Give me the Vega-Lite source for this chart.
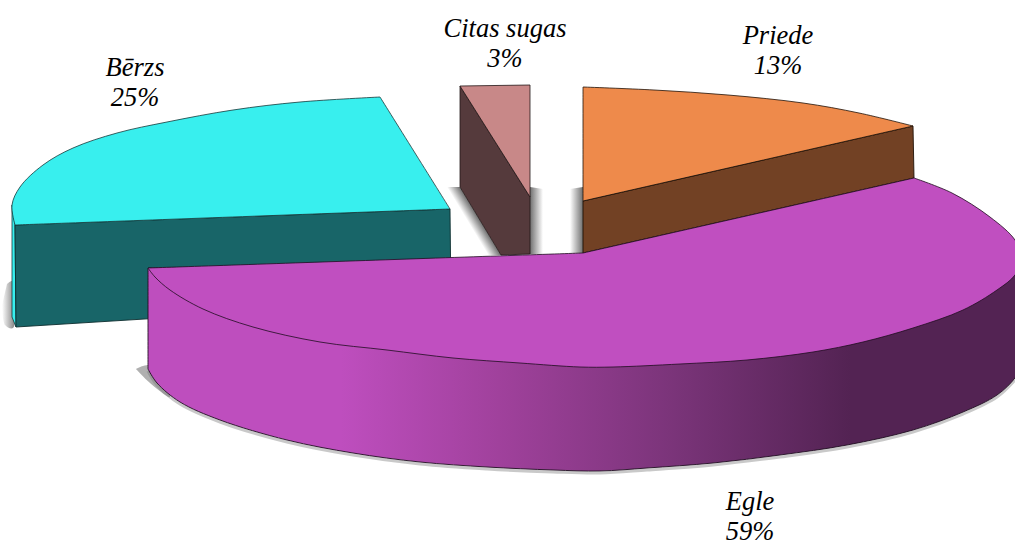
{
"$schema":"https://vega.github.io/schema/vega-lite/v6.json",
"width":1015,"height":543,
"autosize":{"type":"none"},
"padding":0,
"background":"white",
"view":{"stroke":null},
"datasets":{
"outline":[
{"part":"shCitasR","i":1,"x":530,"y":187},{"part":"shCitasR","i":2,"x":543,"y":189},{"part":"shCitasR","i":3,"x":543,"y":254},{"part":"shCitasR","i":4,"x":530,"y":254},
{"part":"shPriede","i":1,"x":570,"y":189},{"part":"shPriede","i":2,"x":583,"y":187},{"part":"shPriede","i":3,"x":583,"y":253},{"part":"shPriede","i":4,"x":570,"y":253},
{"part":"shCitasL","i":1,"x":447,"y":187},{"part":"shCitasL","i":2,"x":460,"y":187},{"part":"shCitasL","i":3,"x":501,"y":255},{"part":"shCitasL","i":4,"x":488,"y":255},
{"part":"shBirch","i":1,"x":7,"y":284},{"part":"shBirch","i":2,"x":13,"y":281},{"part":"shBirch","i":3,"x":13,"y":328},{"part":"shBirch","i":4,"x":5,"y":325},{"part":"shBirch","i":5,"x":2,"y":305},
{"part":"shEgle","i":1,"x":136,"y":369},{"part":"shEgle","i":2,"x":143,"y":366},{"part":"shEgle","i":3,"x":155,"y":366},{"part":"shEgle","i":4,"x":170,"y":397},{"part":"shEgle","i":5,"x":150,"y":383},{"part":"shEgle","i":6,"x":136,"y":369},
{"part":"shArc","i":1,"x":148,"y":371},{"part":"shArc","i":2,"x":157,"y":385},{"part":"shArc","i":3,"x":180,"y":404},{"part":"shArc","i":4,"x":220,"y":422},{"part":"shArc","i":5,"x":287,"y":442},{"part":"shArc","i":6,"x":353,"y":455},{"part":"shArc","i":7,"x":420,"y":464},{"part":"shArc","i":8,"x":487,"y":469},{"part":"shArc","i":9,"x":553,"y":472},{"part":"shArc","i":10,"x":600,"y":473},{"part":"shArc","i":11,"x":647,"y":470},{"part":"shArc","i":12,"x":713,"y":465},{"part":"shArc","i":13,"x":780,"y":457},{"part":"shArc","i":14,"x":847,"y":447},{"part":"shArc","i":15,"x":913,"y":432},{"part":"shArc","i":16,"x":963,"y":414},{"part":"shArc","i":17,"x":997,"y":397},{"part":"shArc","i":18,"x":1015,"y":380},

{"part":"birchSide","i":1,"x":12,"y":205},{"part":"birchSide","i":2,"x":15,"y":225},{"part":"birchSide","i":3,"x":16,"y":327},{"part":"birchSide","i":4,"x":12,"y":317},{"part":"birchSide","i":5,"x":12,"y":205},
{"part":"birchFront","i":1,"x":15,"y":225},{"part":"birchFront","i":2,"x":450,"y":209},{"part":"birchFront","i":3,"x":451,"y":300},{"part":"birchFront","i":4,"x":16,"y":327},{"part":"birchFront","i":5,"x":15,"y":225},
{"part":"birchTop","i":1,"x":15,"y":225},{"part":"birchTop","i":2,"x":15,"y":225},{"part":"birchTop","i":3,"x":12,"y":205},{"part":"birchTop","i":4,"x":20,"y":187},{"part":"birchTop","i":5,"x":43,"y":165},{"part":"birchTop","i":6,"x":73,"y":148},{"part":"birchTop","i":7,"x":117,"y":133},{"part":"birchTop","i":8,"x":167,"y":122},{"part":"birchTop","i":9,"x":233,"y":110},{"part":"birchTop","i":10,"x":300,"y":102},{"part":"birchTop","i":11,"x":380,"y":97},{"part":"birchTop","i":12,"x":380,"y":97},{"part":"birchTop","i":13,"x":450,"y":209},{"part":"birchTop","i":14,"x":450,"y":209},{"part":"birchTop","i":15,"x":15,"y":225},{"part":"birchTop","i":16,"x":15,"y":225},

{"part":"citasSide","i":1,"x":460,"y":86},{"part":"citasSide","i":2,"x":530,"y":197},{"part":"citasSide","i":3,"x":530,"y":254},{"part":"citasSide","i":4,"x":501,"y":255},{"part":"citasSide","i":5,"x":460,"y":187},{"part":"citasSide","i":6,"x":460,"y":86},
{"part":"citasTop","i":1,"x":460,"y":86},{"part":"citasTop","i":2,"x":530,"y":85},{"part":"citasTop","i":3,"x":530,"y":197},{"part":"citasTop","i":4,"x":460,"y":86},

{"part":"priedeFront","i":1,"x":583,"y":201},{"part":"priedeFront","i":2,"x":913,"y":126},{"part":"priedeFront","i":3,"x":914,"y":178},{"part":"priedeFront","i":4,"x":583,"y":253},{"part":"priedeFront","i":5,"x":583,"y":201},
{"part":"priedeTop","i":1,"x":583,"y":87},{"part":"priedeTop","i":2,"x":583,"y":87},{"part":"priedeTop","i":3,"x":654,"y":90},{"part":"priedeTop","i":4,"x":728,"y":95},{"part":"priedeTop","i":5,"x":803,"y":103},{"part":"priedeTop","i":6,"x":859,"y":113},{"part":"priedeTop","i":7,"x":913,"y":126},{"part":"priedeTop","i":8,"x":913,"y":126},{"part":"priedeTop","i":9,"x":583,"y":201},{"part":"priedeTop","i":10,"x":583,"y":201},{"part":"priedeTop","i":11,"x":583,"y":87},{"part":"priedeTop","i":12,"x":583,"y":87},

{"part":"egleSide","i":1,"x":148,"y":268},{"part":"egleSide","i":2,"x":148,"y":268},{"part":"egleSide","i":3,"x":148,"y":369},{"part":"egleSide","i":4,"x":148,"y":369},{"part":"egleSide","i":5,"x":157,"y":383},{"part":"egleSide","i":6,"x":180,"y":402},{"part":"egleSide","i":7,"x":220,"y":420},{"part":"egleSide","i":8,"x":287,"y":440},{"part":"egleSide","i":9,"x":353,"y":453},{"part":"egleSide","i":10,"x":420,"y":462},{"part":"egleSide","i":11,"x":487,"y":467},{"part":"egleSide","i":12,"x":553,"y":470},{"part":"egleSide","i":13,"x":600,"y":471},{"part":"egleSide","i":14,"x":647,"y":468},{"part":"egleSide","i":15,"x":713,"y":463},{"part":"egleSide","i":16,"x":780,"y":455},{"part":"egleSide","i":17,"x":847,"y":445},{"part":"egleSide","i":18,"x":913,"y":430},{"part":"egleSide","i":19,"x":963,"y":412},{"part":"egleSide","i":20,"x":997,"y":395},{"part":"egleSide","i":21,"x":1015,"y":378},{"part":"egleSide","i":22,"x":1026,"y":360},{"part":"egleSide","i":23,"x":1026,"y":360},{"part":"egleSide","i":24,"x":1026,"y":258},{"part":"egleSide","i":25,"x":1026,"y":258},{"part":"egleSide","i":26,"x":148,"y":268},{"part":"egleSide","i":27,"x":148,"y":268},

{"part":"egleTop","i":1,"x":148,"y":268},{"part":"egleTop","i":2,"x":148,"y":268},{"part":"egleTop","i":3,"x":583,"y":253},{"part":"egleTop","i":4,"x":583,"y":253},{"part":"egleTop","i":5,"x":914,"y":178},{"part":"egleTop","i":6,"x":914,"y":178},{"part":"egleTop","i":7,"x":952,"y":193},{"part":"egleTop","i":8,"x":990,"y":217},{"part":"egleTop","i":9,"x":1015,"y":240},{"part":"egleTop","i":10,"x":1022,"y":258},{"part":"egleTop","i":11,"x":1015,"y":275},{"part":"egleTop","i":12,"x":997,"y":290},{"part":"egleTop","i":13,"x":963,"y":310},{"part":"egleTop","i":14,"x":913,"y":328},{"part":"egleTop","i":15,"x":863,"y":342},{"part":"egleTop","i":16,"x":813,"y":352},{"part":"egleTop","i":17,"x":747,"y":360},{"part":"egleTop","i":18,"x":680,"y":364},{"part":"egleTop","i":19,"x":613,"y":367},{"part":"egleTop","i":20,"x":580,"y":367},{"part":"egleTop","i":21,"x":520,"y":363},{"part":"egleTop","i":22,"x":453,"y":358},{"part":"egleTop","i":23,"x":387,"y":350},{"part":"egleTop","i":24,"x":320,"y":342},{"part":"egleTop","i":25,"x":253,"y":327},{"part":"egleTop","i":26,"x":203,"y":309},{"part":"egleTop","i":27,"x":170,"y":290},{"part":"egleTop","i":28,"x":155,"y":277},{"part":"egleTop","i":29,"x":148,"y":268},{"part":"egleTop","i":30,"x":148,"y":268}
],
"labels":[
{"species":"Citas sugas","share":3,"text":"Citas sugas\n3%","x":505,"y":37},
{"species":"Priede","share":13,"text":"Priede\n13%","x":778,"y":44},
{"species":"Bērzs","share":25,"text":"Bērzs\n25%","x":135,"y":76},
{"species":"Egle","share":59,"text":"Egle\n59%","x":750,"y":510}
]
},
"data":{"name":"outline"},
"encoding":{
"x":{"field":"x","type":"quantitative","scale":{"domain":[0,1015],"nice":false,"zero":false},"axis":null},
"y":{"field":"y","type":"quantitative","scale":{"domain":[543,0],"nice":false,"zero":false},"axis":null},
"order":{"field":"i","type":"quantitative"}
},
"layer":[
{"transform":[{"filter":"datum.part==='shCitasR'"}],"mark":{"type":"line","clip":true,"strokeWidth":0,"fill":{"gradient":"linear","x1":0,"y1":0,"x2":1,"y2":0,"stops":[{"offset":0,"color":"#6f6f6f"},{"offset":1,"color":"#ffffff"}]}}},
{"transform":[{"filter":"datum.part==='shPriede'"}],"mark":{"type":"line","clip":true,"strokeWidth":0,"fill":{"gradient":"linear","x1":0,"y1":0,"x2":1,"y2":0,"stops":[{"offset":0,"color":"#ffffff"},{"offset":1,"color":"#6f6f6f"}]}}},
{"transform":[{"filter":"datum.part==='shCitasL'"}],"mark":{"type":"line","clip":true,"strokeWidth":0,"fill":{"gradient":"linear","x1":0.532,"y1":0.384,"x2":0.38,"y2":0.5,"stops":[{"offset":0,"color":"#6f6f6f"},{"offset":1,"color":"#ffffff"}]}}},
{"transform":[{"filter":"datum.part==='shBirch'"}],"mark":{"type":"line","clip":true,"strokeWidth":0,"interpolate":"catmull-rom","fill":{"gradient":"linear","x1":0,"y1":0,"x2":1,"y2":0,"stops":[{"offset":0,"color":"#ffffff"},{"offset":1,"color":"#777777"}]}}},
{"transform":[{"filter":"datum.part==='shEgle'"}],"mark":{"type":"line","clip":true,"strokeWidth":0,"interpolate":"catmull-rom","fill":"#b0b0b0"}},
{"transform":[{"filter":"datum.part==='shArc'"}],"mark":{"type":"line","clip":true,"strokeWidth":3,"interpolate":"catmull-rom","stroke":"#777777","opacity":0.4}},
{"transform":[{"filter":"datum.part==='birchSide'"}],"mark":{"type":"line","clip":true,"fill":"#38EFEE","stroke":"#17383a","strokeWidth":0.8}},
{"transform":[{"filter":"datum.part==='birchFront'"}],"mark":{"type":"line","clip":true,"fill":"#186568","stroke":"#0c2c2e","strokeWidth":0.9}},
{"transform":[{"filter":"datum.part==='birchTop'"}],"mark":{"type":"line","clip":true,"interpolate":"catmull-rom","fill":"#38EFEE","stroke":"#17383a","strokeWidth":0.8}},
{"transform":[{"filter":"datum.part==='citasSide'"}],"mark":{"type":"line","clip":true,"fill":"#553A3C","stroke":"#221617","strokeWidth":0.8}},
{"transform":[{"filter":"datum.part==='citasTop'"}],"mark":{"type":"line","clip":true,"fill":"#C88888","stroke":"#221617","strokeWidth":0.8}},
{"transform":[{"filter":"datum.part==='priedeFront'"}],"mark":{"type":"line","clip":true,"fill":"#724124","stroke":"#1f1208","strokeWidth":0.9}},
{"transform":[{"filter":"datum.part==='priedeTop'"}],"mark":{"type":"line","clip":true,"interpolate":"catmull-rom","fill":"#EE8A4B","stroke":"#1f1208","strokeWidth":0.8}},
{"transform":[{"filter":"datum.part==='egleSide'"}],"mark":{"type":"line","clip":true,"interpolate":"catmull-rom","stroke":"#1f0d20","strokeWidth":0.9,"fill":{"gradient":"linear","x1":0,"y1":0,"x2":1,"y2":0,"stops":[{"offset":0,"color":"#BE4EBE"},{"offset":0.22,"color":"#BE4EBE"},{"offset":0.4,"color":"#A0419C"},{"offset":0.6,"color":"#7A3479"},{"offset":0.8,"color":"#532353"},{"offset":1,"color":"#532353"}]}}},
{"transform":[{"filter":"datum.part==='egleTop'"}],"mark":{"type":"line","clip":true,"interpolate":"catmull-rom","fill":"#C04FC0","stroke":"#1f0d20","strokeWidth":0.8}},
{"data":{"name":"labels"},"mark":{"type":"text","font":"Liberation Serif","fontStyle":"italic","fontSize":26.5,"align":"center","baseline":"alphabetic","lineBreak":"\n","lineHeight":30,"color":"#000000"},
"encoding":{"text":{"field":"text","type":"nominal"},"order":{"value":null}}}
]
}
